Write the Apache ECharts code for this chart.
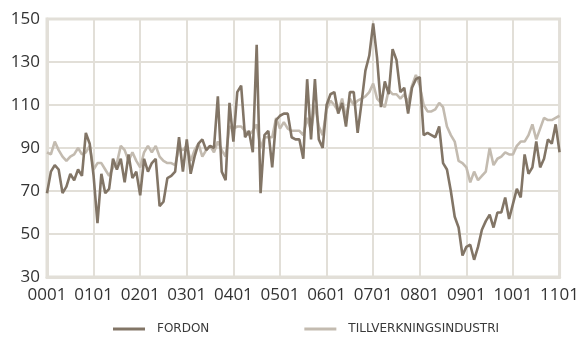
<!DOCTYPE html>
<html><head><meta charset="utf-8">
<script src="https://cdn.jsdelivr.net/npm/echarts@6/dist/echarts.min.js"></script>
<style>html,body{margin:0;padding:0;background:#fff}#c{width:582px;height:338px}</style>
</head><body><div id="c"></div>
<script>
// Monthly categories YYMM from 0001 to 1101
const categories = [];
for (let y = 0; y <= 10; y++) for (let m = 1; m <= 12; m++) categories.push(String(y).padStart(2,'0') + String(m).padStart(2,'0'));
categories.push('1101');

const fordon = [69,79,82,80,69,72,78,75,80,77,97,92,
77,55,78,69,71,85,80,85,74,87,76,79,
68,85,79,83,85,63,65,76,77,79,95,79,
94,78,86,92,94,89,91,90,114,79,75,111,
93,116,119,95,98,88,138,69,96,98,81,103,
105,106,106,95,94,94,85,122,94,122,94,90,
110,115,116,106,111,100,116,116,97,111,126,133,
148,132,109,121,115,136,131,116,118,106,118,122,
123,96,97,96,95,100,83,80,70,58,53,40,
44,45,38,44,52,56,59,53,60,60,67,57,
64,71,67,87,78,81,93,81,85,94,92,101,
88];

const tillverkning = [88,87,93,89,86,84,86,87,90,87,88,91,
80,83,83,80,77,81,83,91,89,84,88,84,
81,88,91,88,91,86,84,83,83,82,90,89,
91,84,89,92,86,89,91,88,93,89,86,100,
99,100,100,98,96,98,101,90,95,95,95,104,
99,102,99,98,98,98,96,104,98,110,100,96,
108,112,110,107,113,104,113,110,112,113,114,116,
120,113,111,109,117,115,115,113,115,111,119,124,
119,110,107,107,108,111,109,100,96,93,84,83,
81,74,79,75,77,79,90,82,85,86,88,87,
87,91,93,93,96,101,94,99,104,103,103,104,
105];

const seriesNames = ['FORDON', 'TILLVERKNINGSINDUSTRI'];
const yTicks = {min: 30, max: 150, interval: 20};

const chart = echarts.init(document.getElementById('c'), null, {renderer: 'canvas'});
const gridColor = '#e2dfd8';
chart.setOption({
  animation: false,
  backgroundColor: '#fff',
  grid: {left: 47, right: 20, top: 19, bottom: 61, show: true, borderColor: gridColor, borderWidth: 3, containLabel: false},
  legend: {
    data: seriesNames, left: 113, top: 323, itemGap: 95, itemWidth: 32, itemHeight: 3, icon: 'rect', padding: 0,
    textStyle: {fontFamily: 'DejaVu Sans', fontSize: 12, color: '#3a3a3a', padding: [0,0,0,7]}
  },
  xAxis: {
    type: 'category', data: categories, boundaryGap: false,
    axisLine: {show: true, lineStyle: {color: gridColor, width: 3}},
    axisTick: {show: false},
    axisLabel: {interval: 11, color: '#333', fontFamily: 'Open Sans', fontSize: 17, margin: 10, showMaxLabel: true},
    splitLine: {show: true, interval: 11, lineStyle: {color: gridColor, width: 2}}
  },
  yAxis: {
    type: 'value', min: yTicks.min, max: yTicks.max, interval: yTicks.interval,
    axisLine: {show: true, lineStyle: {color: gridColor, width: 3}},
    axisTick: {show: false},
    axisLabel: {color: '#333', fontFamily: 'Open Sans', fontSize: 17, margin: 7, verticalAlign: 'middle', padding: [3,0,0,0]},
    splitLine: {show: true, lineStyle: {color: gridColor, width: 2}}
  },
  series: [
    {name: seriesNames[1], type: 'line', data: tillverkning, showSymbol: false, symbol: 'none', z: 2,
     lineStyle: {color: '#c3bbb0', width: 2.6}, itemStyle: {color: '#c3bbb0'}},
    {name: seriesNames[0], type: 'line', data: fordon, showSymbol: false, symbol: 'none', z: 3,
     lineStyle: {color: '#827566', width: 2.6}, itemStyle: {color: '#827566'}}
  ]
});
</script></body></html>
